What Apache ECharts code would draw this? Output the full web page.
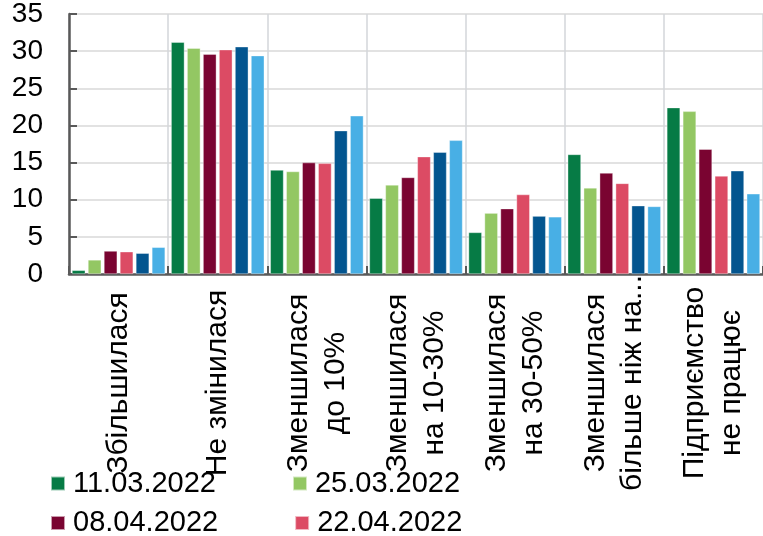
<!DOCTYPE html>
<html>
<head>
<meta charset="utf-8">
<script src="https://cdn.jsdelivr.net/npm/echarts@6/dist/echarts.min.js"></script>
<style>
  html, body { margin: 0; padding: 0; background: #fff; }
  #chart { width: 763px; height: 536px; }
</style>
</head>
<body>
<div id="chart"></div>
<script>
// Categories of revenue change (the long one is shortened with an ellipsis)
const categories = [
  'Збільшилася',
  'Не змінилася',
  'Зменшилася\nдо 10%',
  'Зменшилася\nна 10-30%',
  'Зменшилася\nна 30-50%',
  'Зменшилася\nбільше ніж на...',
  'Підприємство\nне працює'
];

// Survey waves
const seriesNames = ['11.03.2022', '25.03.2022', '08.04.2022', '22.04.2022', '06.05.2022', '20.05.2022'];

// Share of respondents, %
const wave1 = [0.5, 31.2, 14.0, 10.2, 5.6, 16.1, 22.4];
const wave2 = [1.9, 30.4, 13.8, 12.0, 8.2, 11.6, 21.9];
const wave3 = [3.1, 29.6, 15.0, 13.0, 8.8, 13.6, 16.8];
const wave4 = [3.0, 30.2, 14.9, 15.8, 10.7, 12.2, 13.2];
const wave5 = [2.8, 30.6, 19.3, 16.4, 7.8, 9.2, 13.9];
const wave6 = [3.6, 29.4, 21.3, 18.0, 7.7, 9.1, 10.8];

const yTicks = [0, 5, 10, 15, 20, 25, 30, 35];

const waveValues = [wave1, wave2, wave3, wave4, wave5, wave6];
const colors = ['#067B45', '#93C763', '#7A0431', '#DC4B64', '#03558F', '#48AFE5'];

const FONT = '"Liberation Sans", Arial, sans-serif';
const axisGray = '#595959';

const chart = echarts.init(document.getElementById('chart'), null, { renderer: 'canvas' });

// One legend row of two entries
function legendRow(names, top) {
  return {
    left: 50,
    top: top,
    padding: 0,
    itemWidth: 14,
    itemHeight: 14,
    itemGap: 76,
    icon: 'rect',
    selectedMode: false,
    data: names,
    textStyle: {
      fontFamily: FONT,
      fontSize: 29,
      color: '#000',
      padding: [0, 0, 0, 3]
    }
  };
}

const option = {
  backgroundColor: '#fff',
  animation: false,
  color: colors,
  grid: {
    left: 69,
    top: 11.5,
    width: 698,
    height: 262.5
  },
  legend: [
    legendRow(seriesNames.slice(0, 2), 469),
    legendRow(seriesNames.slice(2, 4), 508.5),
    legendRow(seriesNames.slice(4, 6), 548)
  ],
  xAxis: {
    type: 'category',
    data: categories,
    boundaryGap: true,
    axisLine: { show: true, lineStyle: { color: axisGray, width: 2.5 } },
    axisTick: { show: true, inside: true, length: 8, lineStyle: { color: axisGray, width: 2 } },
    splitLine: { show: true, lineStyle: { color: '#D3D6DA', width: 1.5 } },
    axisLabel: {
      interval: 0,
      rotate: 90,
      align: 'center',
      verticalAlign: 'middle',
      margin: 109,
      fontFamily: FONT,
      fontSize: 30,
      lineHeight: 37,
      color: '#000'
    }
  },
  yAxis: {
    type: 'value',
    min: yTicks[0],
    max: yTicks[yTicks.length - 1],
    interval: yTicks[1] - yTicks[0],
    axisLine: { show: true, lineStyle: { color: axisGray, width: 2.5 } },
    axisTick: { show: true, inside: true, length: 8, lineStyle: { color: axisGray, width: 2 } },
    splitLine: { show: true, lineStyle: { color: '#D9D9D9', width: 1.5 } },
    axisLabel: {
      margin: 26,
      fontFamily: FONT,
      fontSize: 28,
      color: '#000'
    }
  },
  series: seriesNames.map((name, i) => ({
    name: name,
    type: 'bar',
    data: waveValues[i],
    barGap: '20%',
    barCategoryGap: '6%',
    itemStyle: {
      color: colors[i],
      borderColor: 'rgba(255,255,255,0.6)',
      borderWidth: 0.6
    }
  }))
};

chart.setOption(option);
</script>
</body>
</html>
